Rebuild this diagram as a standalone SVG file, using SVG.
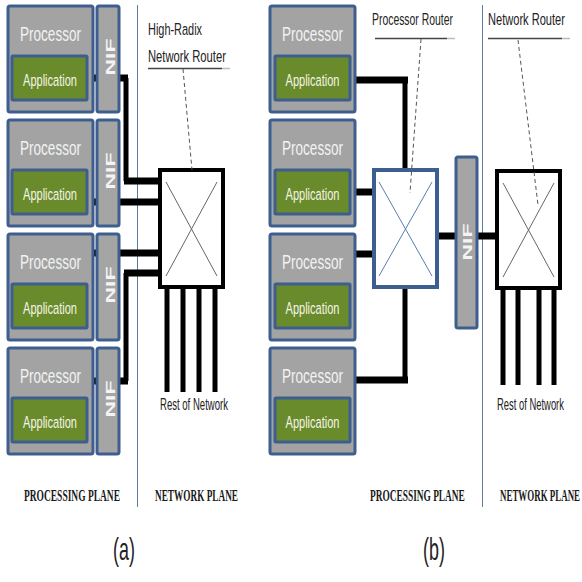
<svg xmlns="http://www.w3.org/2000/svg" width="582" height="582" viewBox="0 0 582 582">
<style>
.proc{fill:#a3a3a3;stroke:#3d5e8e;stroke-width:3}
.app{fill:#6a8b2c;stroke:#3d5e8e;stroke-width:3}
.nif{fill:#a5a5a5;stroke:#3d5e8e;stroke-width:3}
.pt{font-family:"Liberation Sans",Arial,sans-serif;font-size:21px;fill:#f2f2f2;text-anchor:middle}
.at{font-family:"Liberation Sans",Arial,sans-serif;font-size:17px;fill:#f4f4e6;text-anchor:middle}
.nt{font-family:"Liberation Sans",Arial,sans-serif;font-size:13px;font-weight:bold;fill:#f4f4f4;text-anchor:middle}
.lbl{font-family:"Liberation Sans",Arial,sans-serif;font-size:17px;fill:#222}
.ron{font-family:"Liberation Sans",Arial,sans-serif;font-size:16px;fill:#222}
.plane{font-family:"Liberation Serif","Times New Roman",serif;font-size:17px;font-weight:bold;fill:#1a1a1a}
.cap{font-family:"Liberation Sans",Arial,sans-serif;font-size:32px;fill:#222;text-anchor:middle}
.sep{stroke:#5a7aa8;stroke-width:1}
.h{stroke:#000;stroke-width:7;fill:none}
.v{stroke:#000;stroke-width:5;fill:none}
.dash{stroke:#555;stroke-width:1;stroke-dasharray:4 3;fill:none}
.ul{stroke:#444;stroke-width:1.5}
.ulx{stroke:#bbb;stroke-width:1.5}
.xg{stroke:#666;stroke-width:1}
.xb{stroke:#5b7db0;stroke-width:1}
</style>
<rect width="582" height="582" fill="#fff"/>

<!-- separators -->
<line class="sep" x1="137.5" y1="5" x2="137.5" y2="507"/>
<line class="sep" x1="482.5" y1="5" x2="482.5" y2="507"/>

<g id="connectors">
  <path class="h" d="M92 78H128M124 181H161M92 202H161M92 253H161M124 273H161M92 381H128"/>
  <path class="v" d="M126 78V181M126 273V381"/>
  <path class="v" d="M167 287V392M183 287V392M199 287V392M215 287V392"/>
  <path class="h" d="M355 80H408M355 192H374M355 254H374M355 380H408M437 236H497"/>
  <path class="v" d="M405 80V170M405 288V380"/>
  <path class="v" d="M503 288V385M518 288V385M539 288V385M554 288V385"/>
</g>

<g id="a-proc1">
  <rect class="proc" x="8" y="6" width="85" height="106" rx="2"/>
  <rect class="app" x="12" y="56" width="75" height="44" rx="1"/>
  <text class="pt" transform="translate(50.5 41) scale(0.645 1)" textLength="94.5" lengthAdjust="spacingAndGlyphs">Processor</text>
  <text class="at" transform="translate(50 86) scale(0.65 1)" textLength="83" lengthAdjust="spacingAndGlyphs">Application</text>
</g>
<g id="a-nif1">
  <rect class="nif" x="97" y="6" width="22" height="106" rx="2"/>
  <text class="nt" x="115" y="57" transform="rotate(-90 115 57)" textLength="37" lengthAdjust="spacingAndGlyphs">NIF</text>
</g>
<g id="a-proc2">
  <rect class="proc" x="8" y="120" width="85" height="106" rx="2"/>
  <rect class="app" x="12" y="170" width="75" height="44" rx="1"/>
  <text class="pt" transform="translate(50.5 155) scale(0.645 1)" textLength="94.5" lengthAdjust="spacingAndGlyphs">Processor</text>
  <text class="at" transform="translate(50 200) scale(0.65 1)" textLength="83" lengthAdjust="spacingAndGlyphs">Application</text>
</g>
<g id="a-nif2">
  <rect class="nif" x="97" y="120" width="22" height="106" rx="2"/>
  <text class="nt" x="115" y="171" transform="rotate(-90 115 171)" textLength="37" lengthAdjust="spacingAndGlyphs">NIF</text>
</g>
<g id="a-proc3">
  <rect class="proc" x="8" y="234" width="85" height="106" rx="2"/>
  <rect class="app" x="12" y="284" width="75" height="44" rx="1"/>
  <text class="pt" transform="translate(50.5 269) scale(0.645 1)" textLength="94.5" lengthAdjust="spacingAndGlyphs">Processor</text>
  <text class="at" transform="translate(50 314) scale(0.65 1)" textLength="83" lengthAdjust="spacingAndGlyphs">Application</text>
</g>
<g id="a-nif3">
  <rect class="nif" x="97" y="234" width="22" height="106" rx="2"/>
  <text class="nt" x="115" y="285" transform="rotate(-90 115 285)" textLength="37" lengthAdjust="spacingAndGlyphs">NIF</text>
</g>
<g id="a-proc4">
  <rect class="proc" x="8" y="348" width="85" height="106" rx="2"/>
  <rect class="app" x="12" y="398" width="75" height="44" rx="1"/>
  <text class="pt" transform="translate(50.5 383) scale(0.645 1)" textLength="94.5" lengthAdjust="spacingAndGlyphs">Processor</text>
  <text class="at" transform="translate(50 428) scale(0.65 1)" textLength="83" lengthAdjust="spacingAndGlyphs">Application</text>
</g>
<g id="a-nif4">
  <rect class="nif" x="97" y="348" width="22" height="106" rx="2"/>
  <text class="nt" x="115" y="399" transform="rotate(-90 115 399)" textLength="37" lengthAdjust="spacingAndGlyphs">NIF</text>
</g>

<g id="a-router">
  <rect x="160" y="170" width="63" height="117" fill="#fff" stroke="#000" stroke-width="4"/>
  <line class="xg" x1="166" y1="182" x2="217" y2="276"/>
  <line class="xg" x1="217" y1="182" x2="166" y2="276"/>
</g>
<g id="a-router-label">
  <text class="lbl" transform="translate(148 35) scale(0.643 1)" textLength="84" lengthAdjust="spacingAndGlyphs">High-Radix</text>
  <text class="lbl" transform="translate(148 62) scale(0.66 1)" textLength="118" lengthAdjust="spacingAndGlyphs">Network Router</text>
  <line class="ul" x1="148" y1="68.5" x2="222" y2="68.5"/>
  <line class="ulx" x1="222" y1="68.5" x2="230" y2="68.5"/>
  <line class="dash" x1="183" y1="69" x2="192" y2="170"/>
</g>
<text class="ron" transform="translate(160 410) scale(0.6 1)" textLength="113.3" lengthAdjust="spacingAndGlyphs">Rest of Network</text>

<g id="b-proc1">
  <rect class="proc" x="270" y="6" width="85" height="106" rx="2"/>
  <rect class="app" x="275" y="56" width="75" height="44" rx="1"/>
  <text class="pt" transform="translate(312.5 41) scale(0.645 1)" textLength="94.5" lengthAdjust="spacingAndGlyphs">Processor</text>
  <text class="at" transform="translate(312.5 86) scale(0.65 1)" textLength="83" lengthAdjust="spacingAndGlyphs">Application</text>
</g>
<g id="b-proc2">
  <rect class="proc" x="270" y="120" width="85" height="106" rx="2"/>
  <rect class="app" x="275" y="170" width="75" height="44" rx="1"/>
  <text class="pt" transform="translate(312.5 155) scale(0.645 1)" textLength="94.5" lengthAdjust="spacingAndGlyphs">Processor</text>
  <text class="at" transform="translate(312.5 200) scale(0.65 1)" textLength="83" lengthAdjust="spacingAndGlyphs">Application</text>
</g>
<g id="b-proc3">
  <rect class="proc" x="270" y="234" width="85" height="106" rx="2"/>
  <rect class="app" x="275" y="284" width="75" height="44" rx="1"/>
  <text class="pt" transform="translate(312.5 269) scale(0.645 1)" textLength="94.5" lengthAdjust="spacingAndGlyphs">Processor</text>
  <text class="at" transform="translate(312.5 314) scale(0.65 1)" textLength="83" lengthAdjust="spacingAndGlyphs">Application</text>
</g>
<g id="b-proc4">
  <rect class="proc" x="270" y="348" width="85" height="106" rx="2"/>
  <rect class="app" x="275" y="398" width="75" height="44" rx="1"/>
  <text class="pt" transform="translate(312.5 383) scale(0.645 1)" textLength="94.5" lengthAdjust="spacingAndGlyphs">Processor</text>
  <text class="at" transform="translate(312.5 428) scale(0.65 1)" textLength="83" lengthAdjust="spacingAndGlyphs">Application</text>
</g>

<g id="b-proc-router">
  <rect x="374" y="170" width="63" height="117" fill="#fff" stroke="#3d5e8e" stroke-width="4"/>
  <line class="xb" x1="379" y1="182" x2="432" y2="276"/>
  <line class="xb" x1="432" y1="182" x2="379" y2="276"/>
</g>
<g id="b-proc-router-label">
  <text class="lbl" transform="translate(372 25) scale(0.613 1)" textLength="132" lengthAdjust="spacingAndGlyphs">Processor Router</text>
  <line class="ul" x1="375" y1="38.5" x2="447" y2="38.5"/>
  <line class="ulx" x1="447" y1="38.5" x2="455" y2="38.5"/>
  <line class="dash" x1="421" y1="39" x2="410" y2="193"/>
</g>

<g id="b-nif">
  <rect class="nif" x="456" y="157" width="21" height="171" rx="2"/>
  <text class="nt" x="472" y="242" transform="rotate(-90 472 242)" textLength="37" lengthAdjust="spacingAndGlyphs">NIF</text>
</g>

<g id="b-net-router">
  <rect x="497" y="171" width="63" height="117" fill="#fff" stroke="#000" stroke-width="4"/>
  <line class="xg" x1="503" y1="183" x2="554" y2="277"/>
  <line class="xg" x1="554" y1="183" x2="503" y2="277"/>
</g>
<g id="b-net-router-label">
  <text class="lbl" transform="translate(488 25) scale(0.652 1)" textLength="118" lengthAdjust="spacingAndGlyphs">Network Router</text>
  <line class="ul" x1="488" y1="38.5" x2="562" y2="38.5"/>
  <line class="ulx" x1="562" y1="38.5" x2="570" y2="38.5"/>
  <line class="dash" x1="518" y1="40" x2="538" y2="205"/>
</g>
<text class="ron" transform="translate(497 410) scale(0.59 1)" textLength="113.5" lengthAdjust="spacingAndGlyphs">Rest of Network</text>

<text class="plane" transform="translate(24 501) scale(0.536 1)" textLength="179" lengthAdjust="spacingAndGlyphs">PROCESSING PLANE</text>
<text class="plane" transform="translate(155 501) scale(0.532 1)" textLength="156" lengthAdjust="spacingAndGlyphs">NETWORK PLANE</text>
<text class="plane" transform="translate(370 501) scale(0.53 1)" textLength="179" lengthAdjust="spacingAndGlyphs">PROCESSING PLANE</text>
<text class="plane" transform="translate(500 501) scale(0.513 1)" textLength="156" lengthAdjust="spacingAndGlyphs">NETWORK PLANE</text>

<text class="cap" transform="translate(124 560) scale(0.56 1)" textLength="39" lengthAdjust="spacingAndGlyphs">(a)</text>
<text class="cap" transform="translate(434 560) scale(0.56 1)" textLength="39" lengthAdjust="spacingAndGlyphs">(b)</text>
</svg>
